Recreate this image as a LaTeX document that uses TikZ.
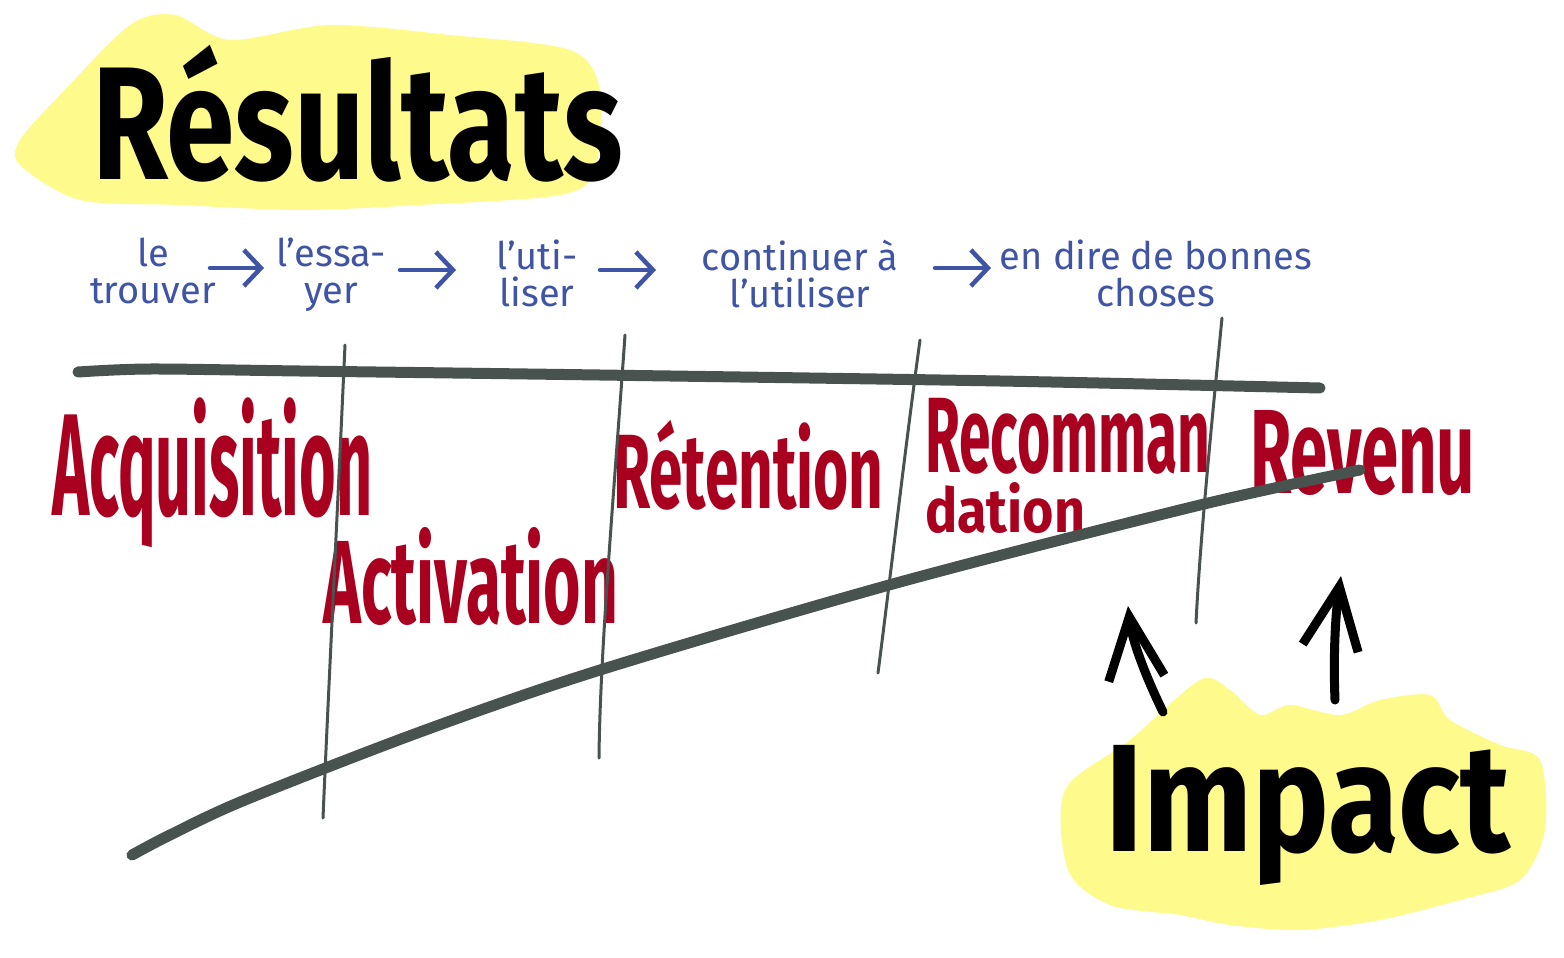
\documentclass[tikz,border=0pt]{standalone}
\usepackage{fontspec}
\usepackage{graphicx}
\setmainfont{Fira Sans}
\usetikzlibrary{arrows.meta}
\definecolor{hiyellow}{HTML}{FFFA8C}
\definecolor{inkblue}{HTML}{4054A6}
\definecolor{inkred}{HTML}{AA0020}
\definecolor{inkgray}{HTML}{48524F}
\tikzset{
  redlbl/.style={inner sep=0pt, anchor=north west, text=inkred, font=\bfseries},
  bluelbl/.style={inner sep=0pt, anchor=north, text=inkblue, align=center, font=\fontsize{38}{37}\selectfont},
  bluearrow/.style={draw=inkblue, line width=4.5pt, line cap=round, line join=round, -{Straight Barb[length=17pt,width=36pt]}},
  thickline/.style={draw=inkgray, line width=11pt, line cap=round, line join=round},
  thinline/.style={draw=inkgray, line width=3pt, line cap=round},
  blackarrow/.style={draw=black, line width=9pt, line cap=round, line join=round, -{Straight Barb[length=62pt,width=56pt]}},
  blob/.style={fill=hiyellow, draw=none},
}
\begin{document}
\begin{tikzpicture}[x=1pt,y=-1pt]
\useasboundingbox (0,0) rectangle (1564,958);
% highlight blobs
\fill[blob] plot[smooth cycle] coordinates {(20,140) (60,95) (130,25) (175,15) (230,40) (330,25) (450,35) (570,50) (600,90) (595,170) (560,195) (420,205) (300,210) (180,205) (80,200) (20,165)};
\fill[blob] plot[smooth cycle] coordinates {(1065,790) (1130,740) (1200,680) (1230,690) (1260,715) (1290,705) (1340,715) (1380,700) (1430,695) (1450,720) (1500,745) (1540,760) (1545,830) (1520,880) (1460,900) (1380,920) (1300,930) (1230,925) (1180,915) (1110,905) (1068,870)};
% title
\node[inner sep=0pt, anchor=north west, font=\bfseries] (title) at (92,45) {\resizebox*{530pt}{137pt}{Résultats}};
% blue steps
\node[bluelbl] (s1) at (153,238) {le\\trouver};
\node[bluelbl] (s2) at (331,238) {l'essa-\\yer};
\node[bluelbl] (s3) at (537,240) {l'uti-\\liser};
\node[bluelbl] (s4) at (800,240) {continuer à\\l'utiliser};
\node[bluelbl] (s5) at (1156,240) {en dire de bonnes\\choses};
\coordinate (a1s) at (210,268); \coordinate (a1e) at (264,268);
\coordinate (a2s) at (400,270); \coordinate (a2e) at (456,270);
\coordinate (a3s) at (600,270); \coordinate (a3e) at (656,270);
\coordinate (a4s) at (935,268); \coordinate (a4e) at (991,268);
\draw[bluearrow] (a1s) -- (a1e);
\draw[bluearrow] (a2s) -- (a2e);
\draw[bluearrow] (a3s) -- (a3e);
\draw[bluearrow] (a4s) -- (a4e);
% red stage labels
\node[redlbl] (acq) at (52,398) {\resizebox*{320pt}{150pt}{Acquisition}};
\node[redlbl] (act) at (323,527) {\resizebox*{295pt}{98pt}{Activation}};
\node[redlbl] (ret) at (613,420) {\resizebox*{270pt}{90pt}{Rétention}};
\node[redlbl] (rec) at (925,398) {\begin{tabular}{@{}l@{}}\resizebox*{285pt}{76pt}{Recomman}\\[6pt]\resizebox*{160pt}{51pt}{dation}\end{tabular}};
\node[redlbl] (rev) at (1250,410) {\resizebox*{225pt}{85pt}{Revenu}};
% timeline
\draw[thickline] plot[smooth] coordinates {(78,372) (150,369) (300,371) (600,375) (1000,381) (1320,388)};
% separators
\draw[thinline] (345,345) .. controls (338,500) and (328,700) .. (323,818);
\draw[thinline] (625,335) .. controls (615,480) and (600,650) .. (599,758);
\draw[thinline] (920,340) .. controls (905,450) and (890,580) .. (878,673);
\draw[thinline] (1222,318) .. controls (1212,420) and (1200,540) .. (1196,623);
% rising revenue line
\draw[thickline] plot[smooth] coordinates {(132,855) (170,835) (245,800) (420,732) (600,670) (900,582) (1200,505) (1360,470)};
% impact
\node[inner sep=0pt, anchor=north west, font=\bfseries] (impact) at (1105,745) {\resizebox*{405pt}{140pt}{Impact}};
\coordinate (i1s) at (1163,712); \coordinate (i1e) at (1128,606);
\coordinate (i2s) at (1335,700); \coordinate (i2e) at (1341,576);
\draw[blackarrow] (i1s) .. controls (1145,675) and (1132,640) .. (i1e);
\draw[blackarrow] (i2s) .. controls (1333,650) and (1336,610) .. (i2e);
\end{tikzpicture}
\end{document}
